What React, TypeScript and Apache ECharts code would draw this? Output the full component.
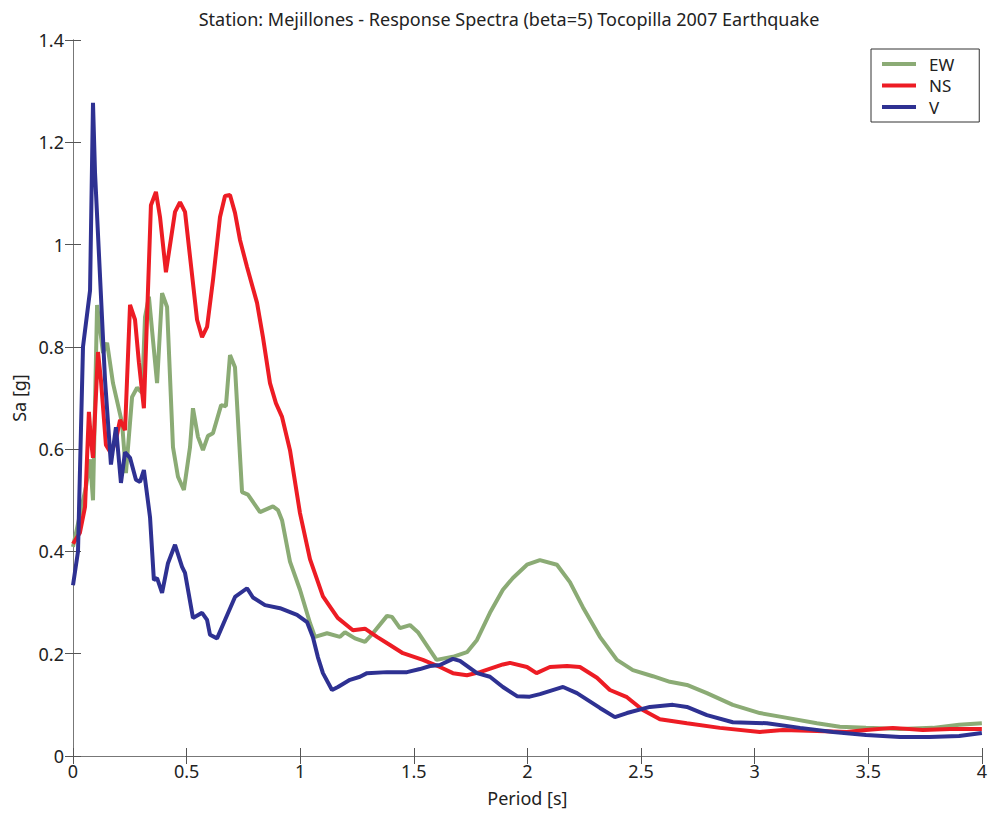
import React, { useEffect, useRef } from "react";
import * as echarts from "echarts";

const titleText = "Station: Mejillones - Response Spectra (beta=5) Tocopilla 2007 Earthquake";
const seriesNames = ["EW", "NS", "V"];

const ewPeriod = [0, 0.057, 0.075, 0.088, 0.106, 0.132, 0.15, 0.176, 0.216, 0.233, 0.26, 0.282, 0.304, 0.317, 0.334, 0.37, 0.392, 0.414, 0.44, 0.462, 0.488, 0.515, 0.528, 0.55, 0.572, 0.594, 0.616, 0.652, 0.673, 0.691, 0.713, 0.744, 0.77, 0.823, 0.88, 0.902, 0.92, 0.955, 0.999, 1.043, 1.065, 1.118, 1.175, 1.197, 1.241, 1.285, 1.32, 1.382, 1.404, 1.439, 1.483, 1.518, 1.571, 1.6, 1.672, 1.734, 1.778, 1.835, 1.892, 1.936, 1.998, 2.055, 2.13, 2.187, 2.244, 2.319, 2.394, 2.464, 2.552, 2.627, 2.702, 2.79, 2.904, 3.023, 3.124, 3.274, 3.375, 3.49, 3.64, 3.784, 3.9, 4.0];
const ewSa = [0.409, 0.526, 0.58, 0.5, 0.882, 0.788, 0.808, 0.729, 0.651, 0.553, 0.702, 0.72, 0.71, 0.858, 0.898, 0.729, 0.905, 0.878, 0.604, 0.546, 0.52, 0.604, 0.68, 0.624, 0.598, 0.626, 0.631, 0.686, 0.684, 0.784, 0.76, 0.516, 0.511, 0.477, 0.488, 0.481, 0.461, 0.38, 0.325, 0.26, 0.233, 0.24, 0.233, 0.242, 0.23, 0.223, 0.24, 0.274, 0.272, 0.25, 0.256, 0.242, 0.207, 0.188, 0.194, 0.203, 0.227, 0.28, 0.325, 0.348, 0.374, 0.383, 0.374, 0.34, 0.291, 0.233, 0.188, 0.168, 0.156, 0.145, 0.139, 0.123, 0.1, 0.084, 0.076, 0.064, 0.057, 0.055, 0.053, 0.055, 0.061, 0.064];

const nsPeriod = [0, 0.03, 0.053, 0.07, 0.079, 0.088, 0.11, 0.123, 0.145, 0.167, 0.189, 0.207, 0.229, 0.251, 0.273, 0.29, 0.312, 0.343, 0.365, 0.383, 0.409, 0.449, 0.471, 0.493, 0.546, 0.568, 0.59, 0.616, 0.647, 0.669, 0.691, 0.713, 0.735, 0.766, 0.81, 0.836, 0.867, 0.893, 0.92, 0.955, 0.999, 1.043, 1.1, 1.165, 1.232, 1.285, 1.338, 1.395, 1.452, 1.54, 1.615, 1.672, 1.734, 1.791, 1.892, 1.923, 1.998, 2.04, 2.099, 2.174, 2.231, 2.306, 2.363, 2.438, 2.508, 2.583, 2.702, 2.847, 3.023, 3.124, 3.274, 3.406, 3.49, 3.608, 3.74, 3.86, 4.0];
const nsSa = [0.415, 0.436, 0.487, 0.673, 0.618, 0.583, 0.79, 0.735, 0.608, 0.592, 0.618, 0.657, 0.637, 0.882, 0.853, 0.77, 0.68, 1.077, 1.103, 1.054, 0.946, 1.064, 1.083, 1.064, 0.853, 0.819, 0.839, 0.93, 1.054, 1.095, 1.097, 1.062, 1.009, 0.956, 0.886, 0.819, 0.729, 0.69, 0.663, 0.598, 0.475, 0.385, 0.312, 0.27, 0.246, 0.249, 0.233, 0.217, 0.201, 0.188, 0.174, 0.162, 0.158, 0.164, 0.179, 0.182, 0.174, 0.162, 0.174, 0.176, 0.174, 0.153, 0.129, 0.115, 0.09, 0.072, 0.064, 0.055, 0.047, 0.051, 0.049, 0.047, 0.051, 0.055, 0.051, 0.053, 0.053];

const vPeriod = [0, 0.022, 0.044, 0.075, 0.088, 0.097, 0.136, 0.141, 0.167, 0.189, 0.211, 0.229, 0.251, 0.277, 0.295, 0.312, 0.339, 0.356, 0.37, 0.392, 0.418, 0.449, 0.48, 0.493, 0.528, 0.568, 0.59, 0.603, 0.634, 0.669, 0.713, 0.766, 0.792, 0.845, 0.911, 0.986, 1.03, 1.056, 1.078, 1.1, 1.14, 1.166, 1.219, 1.263, 1.294, 1.382, 1.47, 1.527, 1.571, 1.615, 1.672, 1.703, 1.778, 1.835, 1.892, 1.954, 2.01, 2.055, 2.157, 2.218, 2.319, 2.385, 2.438, 2.539, 2.64, 2.702, 2.79, 2.904, 3.054, 3.2, 3.345, 3.49, 3.64, 3.77, 3.9, 4.0];
const vSa = [0.334, 0.4, 0.8, 0.91, 1.277, 1.14, 0.78, 0.735, 0.57, 0.643, 0.534, 0.594, 0.583, 0.54, 0.536, 0.559, 0.467, 0.344, 0.348, 0.319, 0.377, 0.413, 0.37, 0.358, 0.27, 0.28, 0.266, 0.237, 0.23, 0.266, 0.311, 0.328, 0.31, 0.295, 0.289, 0.276, 0.262, 0.232, 0.193, 0.162, 0.129, 0.135, 0.149, 0.155, 0.162, 0.164, 0.164, 0.17, 0.176, 0.178, 0.19, 0.186, 0.162, 0.155, 0.135, 0.117, 0.116, 0.121, 0.135, 0.123, 0.094, 0.076, 0.084, 0.096, 0.1, 0.096, 0.08, 0.066, 0.064, 0.055, 0.047, 0.041, 0.037, 0.037, 0.039, 0.045];

const colors = ["#8bab75", "#ed1c24", "#2e3192"];

const zip = (xs: number[], ys: number[]) => xs.map((x, i) => [x, ys[i]]);

const FONT = "Noto Sans";

export default function App() {
  const ref = useRef<HTMLDivElement>(null);
  useEffect(() => {
    if (!ref.current) return;
    const chart = echarts.init(ref.current, null, { renderer: "svg" });
    const axisLine = { show: true, lineStyle: { color: "#777", width: 1 } };
    const tickInside = { show: true, inside: true, length: 8, lineStyle: { color: "#555" } };
    chart.setOption({
      animation: false,
      backgroundColor: "#fff",
      title: {
        text: titleText,
        left: 504,
        textAlign: "center",
        top: 5,
        textStyle: { fontFamily: FONT, fontSize: 18, fontWeight: "normal", color: "#222" },
      },
      legend: {
        orient: "vertical",
        left: 871,
        top: 49,
        data: seriesNames,
        icon: "rect",
        itemWidth: 34,
        itemHeight: 4,
        itemGap: 1.5,
        padding: [5, 25, 5, 11],
        borderColor: "#333",
        borderWidth: 1,
        backgroundColor: "#fff",
        textStyle: { fontFamily: FONT, fontSize: 17, color: "#222", lineHeight: 20, padding: [0, 0, 0, 8] },
      },
      grid: { left: 73, right: 8, top: 40, bottom: 58 },
      xAxis: [
        {
          type: "value",
          min: 0,
          max: 4,
          interval: 0.5,
          name: "Period [s]",
          nameLocation: "middle",
          nameGap: 33,
          nameTextStyle: { fontFamily: FONT, fontSize: 18, color: "#222" },
          axisLine,
          axisTick: tickInside,
          axisLabel: { fontFamily: FONT, fontSize: 18, color: "#222", margin: 6 },
          splitLine: { show: false },
        },
        {
          type: "value",
          position: "top",
          min: 0,
          max: 4,
          interval: 0.5,
          axisLine,
          axisTick: tickInside,
          axisLabel: { show: false },
          splitLine: { show: false },
        },
      ],
      yAxis: [
        {
          type: "value",
          min: 0,
          max: 1.4,
          interval: 0.2,
          name: "Sa [g]",
          nameLocation: "middle",
          nameGap: 44,
          nameRotate: 90,
          nameTextStyle: { fontFamily: FONT, fontSize: 18, color: "#222" },
          axisLine,
          axisTick: tickInside,
          axisLabel: { fontFamily: FONT, fontSize: 18, color: "#222", margin: 9 },
          splitLine: { show: false },
        },
        {
          type: "value",
          position: "right",
          min: 0,
          max: 1.4,
          interval: 0.2,
          axisLine,
          axisTick: tickInside,
          axisLabel: { show: false },
          splitLine: { show: false },
        },
      ],
      series: [
        { name: seriesNames[0], type: "line", data: zip(ewPeriod, ewSa), showSymbol: false, symbol: "none", lineStyle: { width: 4, color: colors[0] }, itemStyle: { color: colors[0] } },
        { name: seriesNames[1], type: "line", data: zip(nsPeriod, nsSa), showSymbol: false, symbol: "none", lineStyle: { width: 4, color: colors[1] }, itemStyle: { color: colors[1] } },
        { name: seriesNames[2], type: "line", data: zip(vPeriod, vSa), showSymbol: false, symbol: "none", lineStyle: { width: 4, color: colors[2] }, itemStyle: { color: colors[2] } },
      ],
    });
    return () => chart.dispose();
  }, []);
  return <div ref={ref} style={{ width: 990, height: 814, position: "absolute", left: 0, top: 0 }} />;
}
